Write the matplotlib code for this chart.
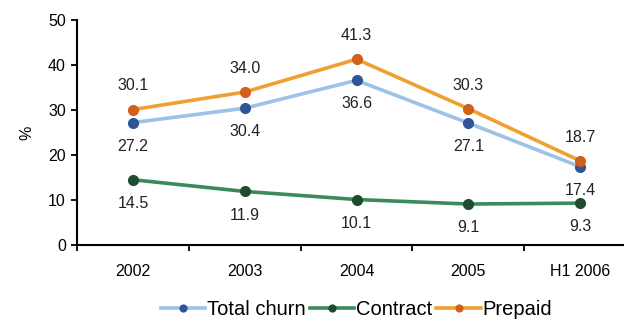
import matplotlib
matplotlib.use("Agg")
import matplotlib.pyplot as plt

periods = ["2002", "2003", "2004", "2005", "H1 2006"]
total_churn = [27.2, 30.4, 36.6, 27.1, 17.4]
contract = [14.5, 11.9, 10.1, 9.1, 9.3]
prepaid = [30.1, 34.0, 41.3, 30.3, 18.7]

plt.rcParams["font.family"] = ["Liberation Sans", "DejaVu Sans"]

fig = plt.figure(figsize=(6.24, 3.24), dpi=100)
ax = fig.add_axes([0.1234, 0.244, 0.896, 0.694])

x = list(range(len(periods)))

series = [
    ("Total churn", total_churn, "#9cc2e8", "#2f5597", -17),
    ("Contract", contract, "#3a8a5c", "#1d4d2e", -17),
    ("Prepaid", prepaid, "#f0a030", "#d0601a", 17),
]

for name, vals, lc, mc, off in series:
    ax.plot(x, vals, color=lc, lw=2.6, marker="o", ms=7,
            mfc=mc, mec=mc, label=name, zorder=3)
    for xi, v in zip(x, vals):
        ax.annotate(f"{v:.1f}", (xi, v), xytext=(0, off),
                    textcoords="offset points", ha="center", va="center",
                    fontsize=11.5, color="#222222")

ax.set_xlim(-0.5, len(periods) - 0.5)
ax.set_ylim(0, 50)
ax.set_yticks([0, 10, 20, 30, 40, 50])
ax.set_xticks(x)
ax.set_xticklabels(periods)
ax.set_xticks([i + 0.5 for i in range(-1, len(periods))], minor=True)
ax.tick_params(axis="x", which="major", length=0, pad=14, labelsize=11.5)
ax.tick_params(axis="x", which="minor", length=4, width=1.3, direction="out")
ax.tick_params(axis="y", length=4, width=1.3, labelsize=11.5, pad=4)

for s in ["top", "right"]:
    ax.spines[s].set_visible(False)
for s in ["left", "bottom"]:
    ax.spines[s].set_linewidth(1.5)

ax.set_ylabel("%", fontsize=11.5, labelpad=10)

ax.legend(loc="center", bbox_to_anchor=(0.5, -0.289), ncol=3,
          frameon=False, fontsize=14.5, handlelength=2.2, columnspacing=0.2,
          handletextpad=0.1, markerscale=0.7, borderaxespad=0)

fig.savefig("out.png", dpi=100)
